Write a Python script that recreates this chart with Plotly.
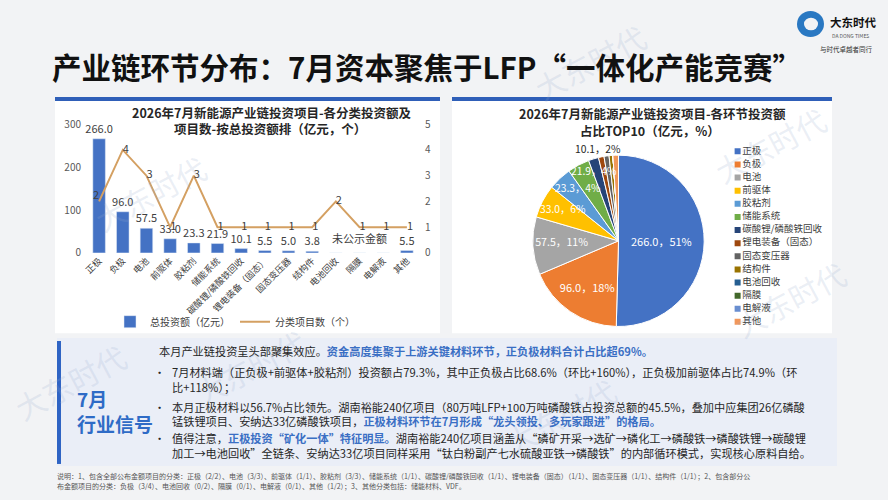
import plotly.graph_objects as go

W, H = 888, 500
FONT = "Noto Sans CJK SC"

# ---- data ----
categories = ["正极", "负极", "电池", "前驱体", "胶粘剂", "储能系统", "碳酸锂/磷酸铁回收",
              "锂电装备（固态）", "固态变压器", "结构件", "电池回收", "隔膜", "电解液", "其他"]
invest = [266.0, 96.0, 57.5, 33.0, 23.3, 21.9, 10.1, 5.5, 5.0, 3.8, 0, 0, 0, 5.5]
invest_labels = ["266.0", "96.0", "57.5", "33.0", "23.3", "21.9", "10.1", "5.5", "5.0", "3.8", "", "", "", "5.5"]
project_counts = [2, 4, 3, 1, 3, 1, 1, 1, 1, 1, 2, 1, 1, 1]

pie_labels = categories
pie_values = invest
pie_pct = [51, 18, 11, 6, 4, 4, 2, None, None, None, None, None, None, None]
pie_colors = ["#4472c4", "#ed7d31", "#a5a5a5", "#ffc000", "#5b9bd5", "#70ad47", "#264478",
              "#9e480e", "#636363", "#997300", "#255e91", "#43682b", "#698ed0", "#f1975a"]

BLUE_TXT = "#3a6fc4"


def px_x(v):
    return v / W


def px_y(v):
    return 1 - v / H


fig = go.Figure()

# left chart: bars + line
fig.add_trace(go.Bar(
    x=categories, y=invest, name="总投资额（亿元）",
    marker_color="#4472c4", text=invest_labels, textposition="outside", constraintext="none",
    textfont=dict(size=11, color="#404040"), cliponaxis=False,
    xaxis="x", yaxis="y", legend="legend",
))
line_pos = ["top left"] + ["middle right"] * (len(categories) - 1)
fig.add_trace(go.Scatter(
    x=categories, y=project_counts, name="分类项目数（个）", mode="lines+text",
    line=dict(color="#d4a062", width=2), text=[str(v) for v in project_counts],
    textposition=line_pos, textfont=dict(size=11, color="#404040"), cliponaxis=False,
    xaxis="x", yaxis="y2", legend="legend",
))

# right chart: pie (big slices labelled by plotly, thin ones by annotations below)
pie_text = [f"{v:.1f}，{p}%" if p is not None and p >= 11 else "" for v, p in zip(pie_values, pie_pct)]
pie_textpos = ["inside" if t else "none" for t in pie_text]

fig.add_trace(go.Pie(
    labels=pie_labels, values=pie_values, sort=False, direction="clockwise", rotation=0,
    marker=dict(colors=pie_colors, line=dict(color="white", width=1)),
    text=pie_text, textinfo="text", textposition=pie_textpos,
    insidetextorientation="horizontal",
    insidetextfont=dict(size=11, color="white"),
    domain=dict(x=[px_x(530), px_x(707)], y=[px_y(328), px_y(151)]),
    showlegend=False,
))

# pie legend (drawn as a marker column)
fig.add_trace(go.Scatter(
    x=[0] * len(pie_labels), y=list(range(len(pie_labels))), mode="markers+text",
    marker=dict(symbol="square", size=6, color=pie_colors),
    text=pie_labels, textposition="middle right", textfont=dict(size=9.5, color="#404040"),
    xaxis="x3", yaxis="y3", showlegend=False, hoverinfo="skip",
))


def rect(x0, x1, y0, y1, color, kind="rect", layer="below"):
    return dict(type=kind, xref="paper", yref="paper", x0=px_x(x0), x1=px_x(x1),
                y0=px_y(y1), y1=px_y(y0), fillcolor=color, line_width=0, layer=layer)


shapes = [
    rect(55, 440, 93, 335, "white"),
    rect(55, 440, 91, 95, "#2f5fb8"),
    rect(452, 832, 93, 335, "white"),
    rect(452, 832, 91, 95, "#2f5fb8"),
    rect(57, 837, 340, 472, "#eaeef7"),
    rect(57, 61, 343, 470, "#2f64c4"),
    rect(797, 824, 2, 29, "#2a78c2", kind="circle", layer="above"),
    rect(804, 818, 9, 22, "#f2f3f5", kind="circle", layer="above"),
]

ann = []


def txt(x, y, s, size, color="#262626", anchor="left", bold=False, **kw):
    ann.append(dict(xref="paper", yref="paper", x=px_x(x), y=px_y(y), text=f"<b>{s}</b>" if bold else s,
                    showarrow=False, xanchor=anchor, yanchor="middle",
                    font=dict(size=size, color=color, family=FONT), **kw))


def blue(s):
    return f"<b><span style='color:{BLUE_TXT}'>{s}</span></b>"


# watermarks
for wx, wy in [(150, 190), (590, 55), (770, 140), (70, 385), (250, 370), (790, 300), (560, 420)]:
    txt(wx, wy, "大东时代", 30, color="rgba(150,170,205,0.2)", anchor="center", textangle=-28)

# header
txt(50, 59, "产业链环节分布：7月资本聚焦于LFP“一体化产能竞赛”", 29.5, color="#111111", bold=True)
txt(828, 13, "大东时代", 11.5, color="#111111", bold=True)
txt(850, 27, "DA DONG TIMES", 5, color="#555555", anchor="center")
txt(846, 41, "与时代卓越者同行", 6.5, color="#333333", anchor="center")

# chart titles
txt(272, 107, "2026年7月新能源产业链投资项目-各分类投资额及", 12.5, anchor="center", bold=True)
txt(270, 123, "项目数-按总投资额排（亿元，个）", 12.5, anchor="center", bold=True)
txt(652, 108, "2026年7月新能源产业链投资项目-各环节投资额", 12.5, anchor="center", bold=True)
txt(650, 125, "占比TOP10（亿元，%）", 12.5, anchor="center", bold=True)

ann.append(dict(xref="x", yref="y", x="隔膜", y=35, text="未公示金额", showarrow=False,
                font=dict(size=11, color="#404040", family=FONT)))

# labels of the thin pie slices
thin_label_pos = {3: (563, 206), 4: (578, 184), 5: (594, 167), 6: (598, 144)}
for i, (lx, ly) in thin_label_pos.items():
    col = "#262626" if i == 6 else "white"
    txt(lx, ly, f"{pie_values[i]:.1f}，{pie_pct[i]}%", 10.3, color=col, anchor="center")

# signal box
txt(75, 402, "7月", 19, color="#2e6bc6", bold=True)
txt(75, 428, "行业信号", 19, color="#2e6bc6", bold=True)

body = [
    (157, 353, "本月产业链投资呈头部聚集效应。" + blue("资金高度集聚于上游关键材料环节，正负极材料合计占比超69%。")),
    (170, 375, "7月材料端（正负极+前驱体+胶粘剂）投资额占79.3%，其中正负极占比68.6%（环比+160%），正负极加前驱体占比74.9%（环"),
    (170, 391, "比+118%）；"),
    (170, 411, "本月正极材料以56.7%占比领先。湖南裕能240亿项目（80万吨LFP+100万吨磷酸铁占投资总额的45.5%，叠加中应集团26亿磷酸"),
    (170, 426, "锰铁锂项目、安纳达33亿磷酸铁项目，" + blue("正极材料环节在7月形成“龙头领投、多玩家跟进”的格局。")),
    (170, 443, "值得注意，" + blue("正极投资“矿化一体”特征明显。") + "湖南裕能240亿项目涵盖从“磷矿开采→选矿→磷化工→磷酸铁→磷酸铁锂→碳酸锂"),
    (170, 459, "加工→电池回收”全链条、安纳达33亿项目同样采用“钛白粉副产七水硫酸亚铁→磷酸铁”的内部循环模式，实现核心原料自给。"),
]
for bx, by, s in body:
    txt(bx, by, s, 11.2)
for by in [375, 411, 443]:
    txt(159, by, "•", 11.2, anchor="center")

# footnote
txt(55, 482, "说明：1、包含全部公布金额项目的分类：正极（2/2）、电池（3/3）、前驱体（1/1）、胶粘剂（3/3）、储能系统（1/1）、碳酸锂/磷酸铁回收（1/1）、锂电装备（固态）（1/1）、固态变压器（1/1）、结构件（1/1）；2、包含部分公",
    7.0, color="#555555")
txt(55, 493, "布金额项目的分类：负极（3/4）、电池回收（0/2）、隔膜（0/1）、电解液（0/1）、其他（1/2）；3、其他分类包括：储能材料、VDF。",
    7.0, color="#555555")

fig.update_layout(
    width=W, height=H,
    margin=dict(l=0, r=0, t=0, b=0),
    paper_bgcolor="#f2f3f5", plot_bgcolor="rgba(0,0,0,0)",
    font=dict(family=FONT, color="#404040"),
    bargap=0.47,
    shapes=shapes, annotations=ann,
    xaxis=dict(domain=[px_x(82), px_x(424)], tickangle=-45, tickfont=dict(size=9, color="#404040"),
               showgrid=False, showline=False, ticks="", anchor="y"),
    yaxis=dict(domain=[px_y(252), px_y(119)], range=[0, 300], tickvals=[0, 100, 200, 300],
               showgrid=False, zeroline=False, tickfont=dict(size=10, color="#595959")),
    yaxis2=dict(overlaying="y", side="right", range=[0, 5], dtick=1, showgrid=False,
                zeroline=False, tickfont=dict(size=10, color="#595959"), anchor="x"),
    xaxis3=dict(domain=[px_x(733), px_x(830)], range=[-0.5, 10], visible=False, anchor="y3"),
    yaxis3=dict(domain=[px_y(330), px_y(140.2)], range=[13.5, -0.5], visible=False, anchor="x3"),
    legend=dict(orientation="h", x=px_x(235), xanchor="center", y=px_y(323), yanchor="middle",
                font=dict(size=10, color="#404040"), bgcolor="rgba(0,0,0,0)"),
)

# the page body has a default 8px margin; drop it so the slide fills the window
fig.write_html("out.html", config={"displayModeBar": False},
               post_script="document.body.style.margin='0';")
